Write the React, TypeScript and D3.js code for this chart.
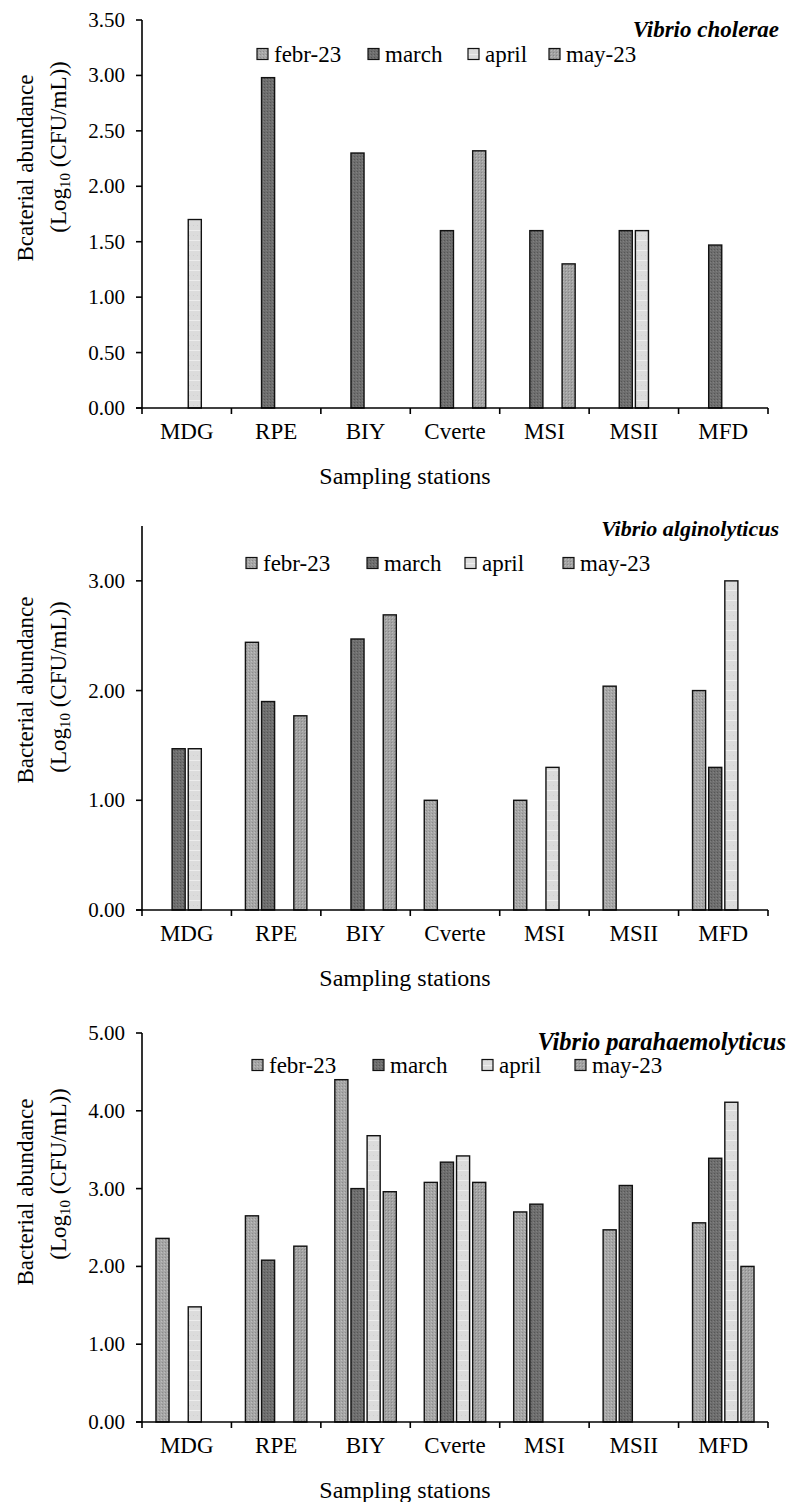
import React from "react";
import * as d3 from "d3";

const stations = ["MDG", "RPE", "BIY", "Cverte", "MSI", "MSII", "MFD"];
const months = ["febr-23", "march", "april", "may-23"];

// Vibrio cholerae
const cholFeb = [0, 0, 0, 0, 0, 0, 0];
const cholMar = [0, 2.98, 2.3, 1.6, 1.6, 1.6, 1.47];
const cholApr = [1.7, 0, 0, 0, 0, 1.6, 0];
const cholMay = [0, 0, 0, 2.32, 1.3, 0, 0];
const cholTicks = [0, 0.5, 1, 1.5, 2, 2.5, 3, 3.5];

// Vibrio alginolyticus
const algFeb = [0, 2.44, 0, 1.0, 1.0, 2.04, 2.0];
const algMar = [1.47, 1.9, 2.47, 0, 0, 0, 1.3];
const algApr = [1.47, 0, 0, 0, 1.3, 0, 3.0];
const algMay = [0, 1.77, 2.69, 0, 0, 0, 0];
const algTicks = [0, 1, 2, 3];

// Vibrio parahaemolyticus
const paraFeb = [2.36, 2.65, 4.4, 3.08, 2.7, 2.47, 2.56];
const paraMar = [0, 2.08, 3.0, 3.34, 2.8, 3.04, 3.39];
const paraApr = [1.48, 0, 3.68, 3.42, 0, 0, 4.11];
const paraMay = [0, 2.26, 2.96, 3.08, 0, 0, 2.0];
const paraTicks = [0, 1, 2, 3, 4, 5];

const fills = ["url(#pMed)", "url(#pDark)", "url(#pLight)", "url(#pMed2)"];
const FONT = "'Liberation Serif', 'Times New Roman', serif";

const panels = [
  {
    title: "Vibrio cholerae",
    ylab: "Bcaterial abundance",
    series: [cholFeb, cholMar, cholApr, cholMay],
    ticks: cholTicks,
    max: 3.5,
    top: 20,
    bottom: 408,
    titleX: 779,
    titleY: 37,
    titleSize: 23,
    legendY: 54,
    legendX: [257, 368, 468, 549],
    ylabY: 168,
    ylab2Y: 147,
  },
  {
    title: "Vibrio alginolyticus",
    ylab: "Bacterial abundance",
    series: [algFeb, algMar, algApr, algMay],
    ticks: algTicks,
    max: 3.5,
    top: 526,
    bottom: 910,
    titleX: 779,
    titleY: 536,
    titleSize: 22,
    legendY: 563,
    legendX: [246, 367, 465, 563],
    ylabY: 690,
    ylab2Y: 687,
  },
  {
    title: "Vibrio parahaemolyticus",
    ylab: "Bacterial abundance",
    series: [paraFeb, paraMar, paraApr, paraMay],
    ticks: paraTicks,
    max: 5,
    top: 1033,
    bottom: 1422,
    titleX: 786,
    titleY: 1050,
    titleSize: 24.5,
    legendY: 1065,
    legendX: [252, 373, 482, 575],
    ylabY: 1192,
    ylab2Y: 1174,
  },
];

const left = 142;
const right = 768;

function Panel({ p }: { p: (typeof panels)[number] }) {
  const x0 = d3.scaleBand<string>().domain(stations).range([left, right]);
  const bw = x0.bandwidth();
  const groupW = bw * 0.72;
  const x1 = d3
    .scaleBand<string>()
    .domain(months)
    .range([(bw - groupW) / 2, (bw + groupW) / 2])
    .paddingInner(0.19)
    .paddingOuter(0.09);
  const y = d3.scaleLinear().domain([0, p.max]).range([p.bottom, p.top]);
  const edges = [...stations.map((s) => x0(s)!), right];

  return (
    <g fontFamily={FONT} fill="#000">
      {/* bars */}
      {stations.map((s, i) =>
        p.series.map((vals, k) =>
          vals[i] > 0 ? (
            <rect
              key={s + k}
              x={x0(s)! + x1(months[k])!}
              y={y(vals[i])}
              width={x1.bandwidth()}
              height={y(0) - y(vals[i])}
              fill={fills[k]}
              stroke="#111"
              strokeWidth={1.4}
            />
          ) : null
        )
      )}
      {/* y axis */}
      <line x1={left} x2={left} y1={p.top} y2={p.bottom} stroke="#000" strokeWidth={1.6} />
      {p.ticks.map((t) => (
        <g key={t}>
          <line x1={left - 6} x2={left} y1={y(t)} y2={y(t)} stroke="#000" strokeWidth={1.6} />
          <text x={left - 17} y={y(t) + 7} textAnchor="end" fontSize={21}>
            {d3.format(".2f")(t)}
          </text>
        </g>
      ))}
      {/* x axis */}
      <line x1={left - 6} x2={right} y1={p.bottom} y2={p.bottom} stroke="#000" strokeWidth={1.6} />
      {edges.map((e, i) => (
        <line key={i} x1={e} x2={e} y1={p.bottom} y2={p.bottom + 6} stroke="#000" strokeWidth={1.6} />
      ))}
      {stations.map((s) => (
        <text key={s} x={x0(s)! + bw / 2} y={p.bottom + 31} textAnchor="middle" fontSize={23}>
          {s}
        </text>
      ))}
      <text x={405} y={p.bottom + 76} textAnchor="middle" fontSize={24}>
        Sampling stations
      </text>
      {/* y label */}
      <g transform={`translate(33, ${p.ylabY}) rotate(-90)`}>
        <text textAnchor="middle" fontSize={23}>
          {p.ylab}
        </text>
      </g>
      <g transform={`translate(66, ${p.ylab2Y}) rotate(-90)`}>
        <text textAnchor="middle" fontSize={23}>
          (Log
          <tspan fontSize={15} dy={4}>10</tspan>
          <tspan dy={-4}> (CFU/mL))</tspan>
        </text>
      </g>
      {/* title */}
      <text
        x={p.titleX}
        y={p.titleY}
        textAnchor="end"
        fontSize={p.titleSize}
        fontWeight="bold"
        fontStyle="italic"
      >
        {p.title}
      </text>
      {/* legend */}
      {months.map((m, k) => (
        <g key={m} transform={`translate(${p.legendX[k]}, ${p.legendY})`}>
          <rect x={0} y={-5.5} width={11} height={11} fill={fills[k]} stroke="#111" strokeWidth={1.2} />
          <text x={17} y={8} fontSize={23}>
            {m}
          </text>
        </g>
      ))}
    </g>
  );
}

export default function App() {
  return (
    <svg
      width={789}
      height={1502}
      style={{ position: "absolute", left: 0, top: 0, background: "#fff" }}
    >
      <defs>
        <pattern id="pMed" width={3} height={3} patternUnits="userSpaceOnUse">
          <rect width={3} height={3} fill="#a6a6a6" />
          <rect width={1} height={1} fill="#8c8c8c" />
          <rect x={2} y={1} width={1} height={1} fill="#bdbdbd" />
        </pattern>
        <pattern id="pMed2" width={3} height={3} patternUnits="userSpaceOnUse">
          <rect width={3} height={3} fill="#a2a2a2" />
          <rect x={1} y={1} width={1} height={1} fill="#888" />
          <rect x={2} y={2} width={1} height={1} fill="#bababa" />
        </pattern>
        <pattern id="pDark" width={3} height={3} patternUnits="userSpaceOnUse">
          <rect width={3} height={3} fill="#6e6e6e" />
          <rect width={1} height={1} fill="#555" />
          <rect x={2} y={1} width={1} height={1} fill="#808080" />
        </pattern>
        <pattern id="pLight" width={4} height={10} patternUnits="userSpaceOnUse">
          <rect width={4} height={10} fill="#dcdcdc" />
          <rect y={0} width={4} height={1} fill="#ededed" />
          <rect x={1} y={5} width={1} height={1} fill="#cfcfcf" />
        </pattern>
      </defs>
      {panels.map((p) => (
        <Panel key={p.title} p={p} />
      ))}
    </svg>
  );
}
